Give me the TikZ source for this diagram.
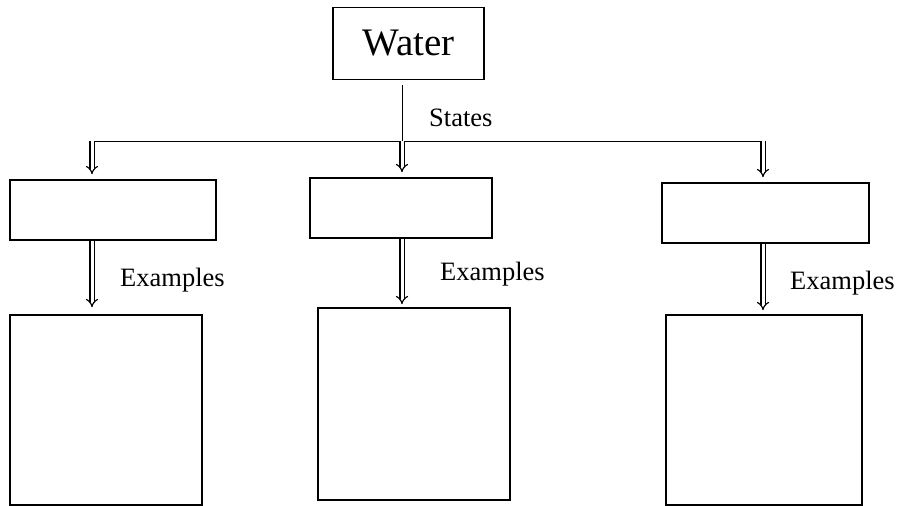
\documentclass[tikz,border=0pt]{standalone}
\usepackage{fontspec}
\setmainfont{Liberation Serif}
\usepackage{tikz}
\usetikzlibrary{arrows.meta}

\begin{document}
\begin{tikzpicture}[x=1pt, y=-1pt]
        % Define node styles
        \tikzstyle{statebox} = [draw, line width=1.6pt, rectangle, inner sep=0pt]
        \tikzstyle{flow} = [draw, line width=1.2pt, double=white, double distance=3pt, -{Implies[scale=1.25]}, shorten >=5pt]
        \tikzstyle{lbl} = [font=\fontsize{26.5}{28}\selectfont, inner sep=0pt, anchor=west]

        \useasboundingbox (0,0) rectangle (897,506);

        % Draw the nodes
        \node[statebox, minimum width=151pt, minimum height=72pt, font=\fontsize{39}{42}\selectfont] (water) at (408.5,43.5) {Water};
        \node[statebox, minimum width=206pt, minimum height=60pt] (solid) at (113,210) {};
        \node[statebox, minimum width=182pt, minimum height=60pt] (liquid) at (401,208) {};
        \node[statebox, minimum width=207pt, minimum height=60pt] (gas) at (765.5,213) {};
        \node[statebox, minimum width=192pt, minimum height=190pt] (exsolid) at (106,410) {};
        \node[statebox, minimum width=192pt, minimum height=192pt] (exliquid) at (414,404) {};
        \node[statebox, minimum width=196pt, minimum height=190pt] (exgas) at (764,410) {};

        % Branch line
        \coordinate (b1) at (92,141);
        \coordinate (b2) at (402,141);
        \coordinate (b3) at (763,141);
        \coordinate (bend) at (766,141);

        \draw[line width=0.8pt] ([yshift=-5pt]water.south -| b2) -- (b2);
        \node[lbl] (states) at (429,118) {States};
        \draw[line width=0.8pt] (b1) -- (bend);

        \draw[flow] (b1) -- (b1 |- solid.north);
        \draw[flow] (b2) -- (b2 |- liquid.north);
        \draw[flow] (b3) -- (b3 |- gas.north);

        \draw[flow, shorten >=7pt] (b1 |- solid.south) -- (b1 |- exsolid.north);
        \draw[flow, shorten >=3pt] (b2 |- liquid.south) -- (b2 |- exliquid.north);
        \draw[flow, shorten >=4pt] (b3 |- gas.south) -- (b3 |- exgas.north);

        \node[lbl] (ex1) at (120,280) {Examples};
        \node[lbl] (ex2) at (440,274) {Examples};
        \node[lbl] (ex3) at (790,283) {Examples};
    \end{tikzpicture}
\end{document}
